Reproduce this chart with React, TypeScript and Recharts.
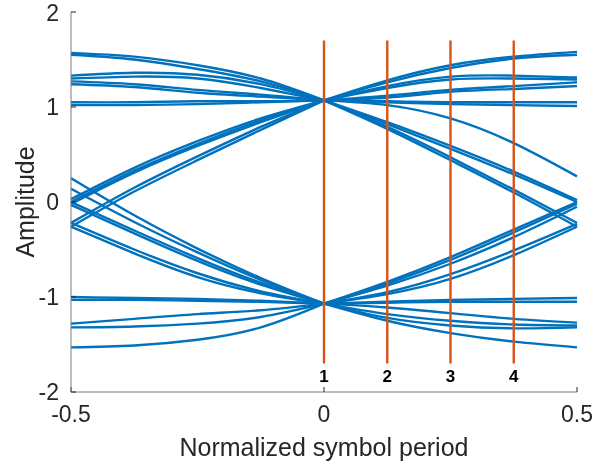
import { LineChart, Line, XAxis, YAxis, ReferenceLine, ReferenceDot } from 'recharts';

// sample instants across one symbol period
const symbolTimes = [-0.5, -0.375, -0.25, -0.125, 0, 0.125, 0.25, 0.375, 0.5];
const centerIndex = 4;

// traces passing through the upper decision point
const upperTraces = [
  [1.57, 1.53, 1.44, 1.3, 1.07, 1.28, 1.44, 1.53, 1.58],
  [1.55, 1.5, 1.4, 1.27, 1.07, 1.26, 1.41, 1.51, 1.55],
  [1.33, 1.36, 1.34, 1.24, 1.07, 1.22, 1.32, 1.33, 1.31],
  [1.3, 1.32, 1.3, 1.2, 1.07, 1.2, 1.29, 1.3, 1.29],
  [1.27, 1.24, 1.18, 1.13, 1.07, 1.12, 1.18, 1.22, 1.26],
  [1.24, 1.21, 1.15, 1.11, 1.07, 1.1, 1.16, 1.19, 1.22],
  [1.05, 1.05, 1.06, 1.06, 1.07, 1.06, 1.05, 1.05, 1.05],
  [1.02, 1.02, 1.03, 1.05, 1.07, 1.05, 1.03, 1.02, 1.01],
  [0.03, 0.36, 0.64, 0.88, 1.07, 1.02, 0.88, 0.62, 0.27],
  [0.0, 0.33, 0.61, 0.86, 1.07, 0.84, 0.59, 0.32, 0.02],
  [-0.02, 0.31, 0.59, 0.84, 1.07, 0.82, 0.56, 0.29, 0.0],
  [-0.22, 0.15, 0.48, 0.79, 1.07, 0.79, 0.47, 0.13, -0.22],
  [-0.26, 0.11, 0.44, 0.76, 1.07, 0.77, 0.44, 0.1, -0.26],
];

// traces passing through the lower decision point
const lowerTraces = [
  [-1.0, -1.01, -1.02, -1.04, -1.07, -1.05, -1.03, -1.02, -1.01],
  [-1.03, -1.03, -1.04, -1.05, -1.07, -1.06, -1.05, -1.05, -1.05],
  [-1.28, -1.23, -1.18, -1.14, -1.07, -1.11, -1.17, -1.23, -1.27],
  [-1.32, -1.31, -1.28, -1.21, -1.07, -1.18, -1.25, -1.29, -1.3],
  [-1.53, -1.51, -1.45, -1.32, -1.07, -1.25, -1.38, -1.47, -1.53],
  [0.25, -0.14, -0.49, -0.8, -1.07, -1.22, -1.3, -1.33, -1.32],
  [0.14, -0.21, -0.53, -0.82, -1.07, -0.84, -0.58, -0.29, 0.0],
  [0.0, -0.3, -0.59, -0.85, -1.07, -0.86, -0.61, -0.32, -0.02],
  [-0.03, -0.33, -0.62, -0.87, -1.07, -0.88, -0.65, -0.37, -0.05],
  [-0.22, -0.5, -0.75, -0.94, -1.07, -0.97, -0.81, -0.56, -0.26],
  [-0.26, -0.54, -0.79, -0.96, -1.07, -0.95, -0.76, -0.51, -0.23],
];

const markerTimes = [0, 0.125, 0.25, 0.375];
const markerLabels = ['1', '2', '3', '4'];
const markerSpan = [-1.7, 1.7];
const markerLabelLevel = -1.83;

const xTicks = [-0.5, 0, 0.5];
const yTicks = [-2, -1, 0, 1, 2];

const traces = [...upperTraces, ...lowerTraces];

// each trace is split at the sampling instant so the eye keeps its sharp crossing
const data = symbolTimes.map((t, i) => {
  const row: Record<string, number> = { x: t };
  traces.forEach((tr, k) => {
    if (i <= centerIndex) row[`l${k}`] = tr[i];
    if (i >= centerIndex) row[`r${k}`] = tr[i];
  });
  return row;
});

const seriesKeys = traces.flatMap((_, k) => [`l${k}`, `r${k}`]);

const axisColor = '#262626';

export default function App() {
  return (
    <div style={{ position: 'fixed', left: 0, top: 0 }}>
      <LineChart
        width={595}
        height={467}
        data={data}
        margin={{ top: 12, right: 18, left: 0, bottom: 0 }}
        style={{ fontFamily: '"Liberation Sans", Arial, sans-serif' }}
      >
        <XAxis
          dataKey="x"
          type="number"
          domain={[-0.5, 0.5]}
          ticks={xTicks}
          height={75}
          tickSize={-5}
          tickMargin={19}
          stroke="#7a7a7a"
          tick={{ fill: axisColor, fontSize: 23 }}
          tickLine={{ stroke: axisColor }}
          label={{
            value: 'Normalized symbol period',
            position: 'insideBottom',
            offset: 11,
            fontSize: 25,
            fill: axisColor,
          }}
        />
        <XAxis
          xAxisId="top"
          orientation="top"
          type="number"
          domain={[-0.5, 0.5]}
          ticks={xTicks}
          height={0}
          tickSize={-5}
          stroke="#7a7a7a"
          tick={false}
          tickLine={{ stroke: axisColor }}
        />
        <YAxis
          type="number"
          domain={[-2, 2]}
          ticks={yTicks}
          width={71}
          tickSize={-5}
          tickMargin={17}
          stroke="#7a7a7a"
          tick={{ fill: axisColor, fontSize: 23 }}
          tickLine={{ stroke: axisColor }}
          label={{
            value: 'Amplitude',
            angle: -90,
            position: 'insideLeft',
            offset: 25,
            fontSize: 25,
            fill: axisColor,
            style: { textAnchor: 'middle' },
          }}
        />
        <YAxis
          yAxisId="right"
          orientation="right"
          type="number"
          domain={[-2, 2]}
          ticks={yTicks}
          width={0}
          tickSize={-5}
          stroke="#7a7a7a"
          tick={false}
          tickLine={{ stroke: axisColor }}
        />
        {seriesKeys.map((key) => (
          <Line
            key={key}
            dataKey={key}
            type="natural"
            stroke="#0072BD"
            strokeWidth={2.4}
            dot={false}
            activeDot={false}
            isAnimationActive={false}
          />
        ))}
        {markerTimes.map((t) => (
          <ReferenceLine
            key={`m${t}`}
            segment={[
              { x: t, y: markerSpan[0] },
              { x: t, y: markerSpan[1] },
            ]}
            stroke="#D95319"
            strokeWidth={2.4}
          />
        ))}
        {markerTimes.map((t, i) => (
          <ReferenceDot
            key={`d${t}`}
            x={t}
            y={markerLabelLevel}
            r={0}
            fill="none"
            stroke="none"
            label={{
              value: markerLabels[i],
              position: 'center',
              fontSize: 17,
              fontWeight: 'bold',
              fill: '#000',
            }}
          />
        ))}
      </LineChart>
    </div>
  );
}
